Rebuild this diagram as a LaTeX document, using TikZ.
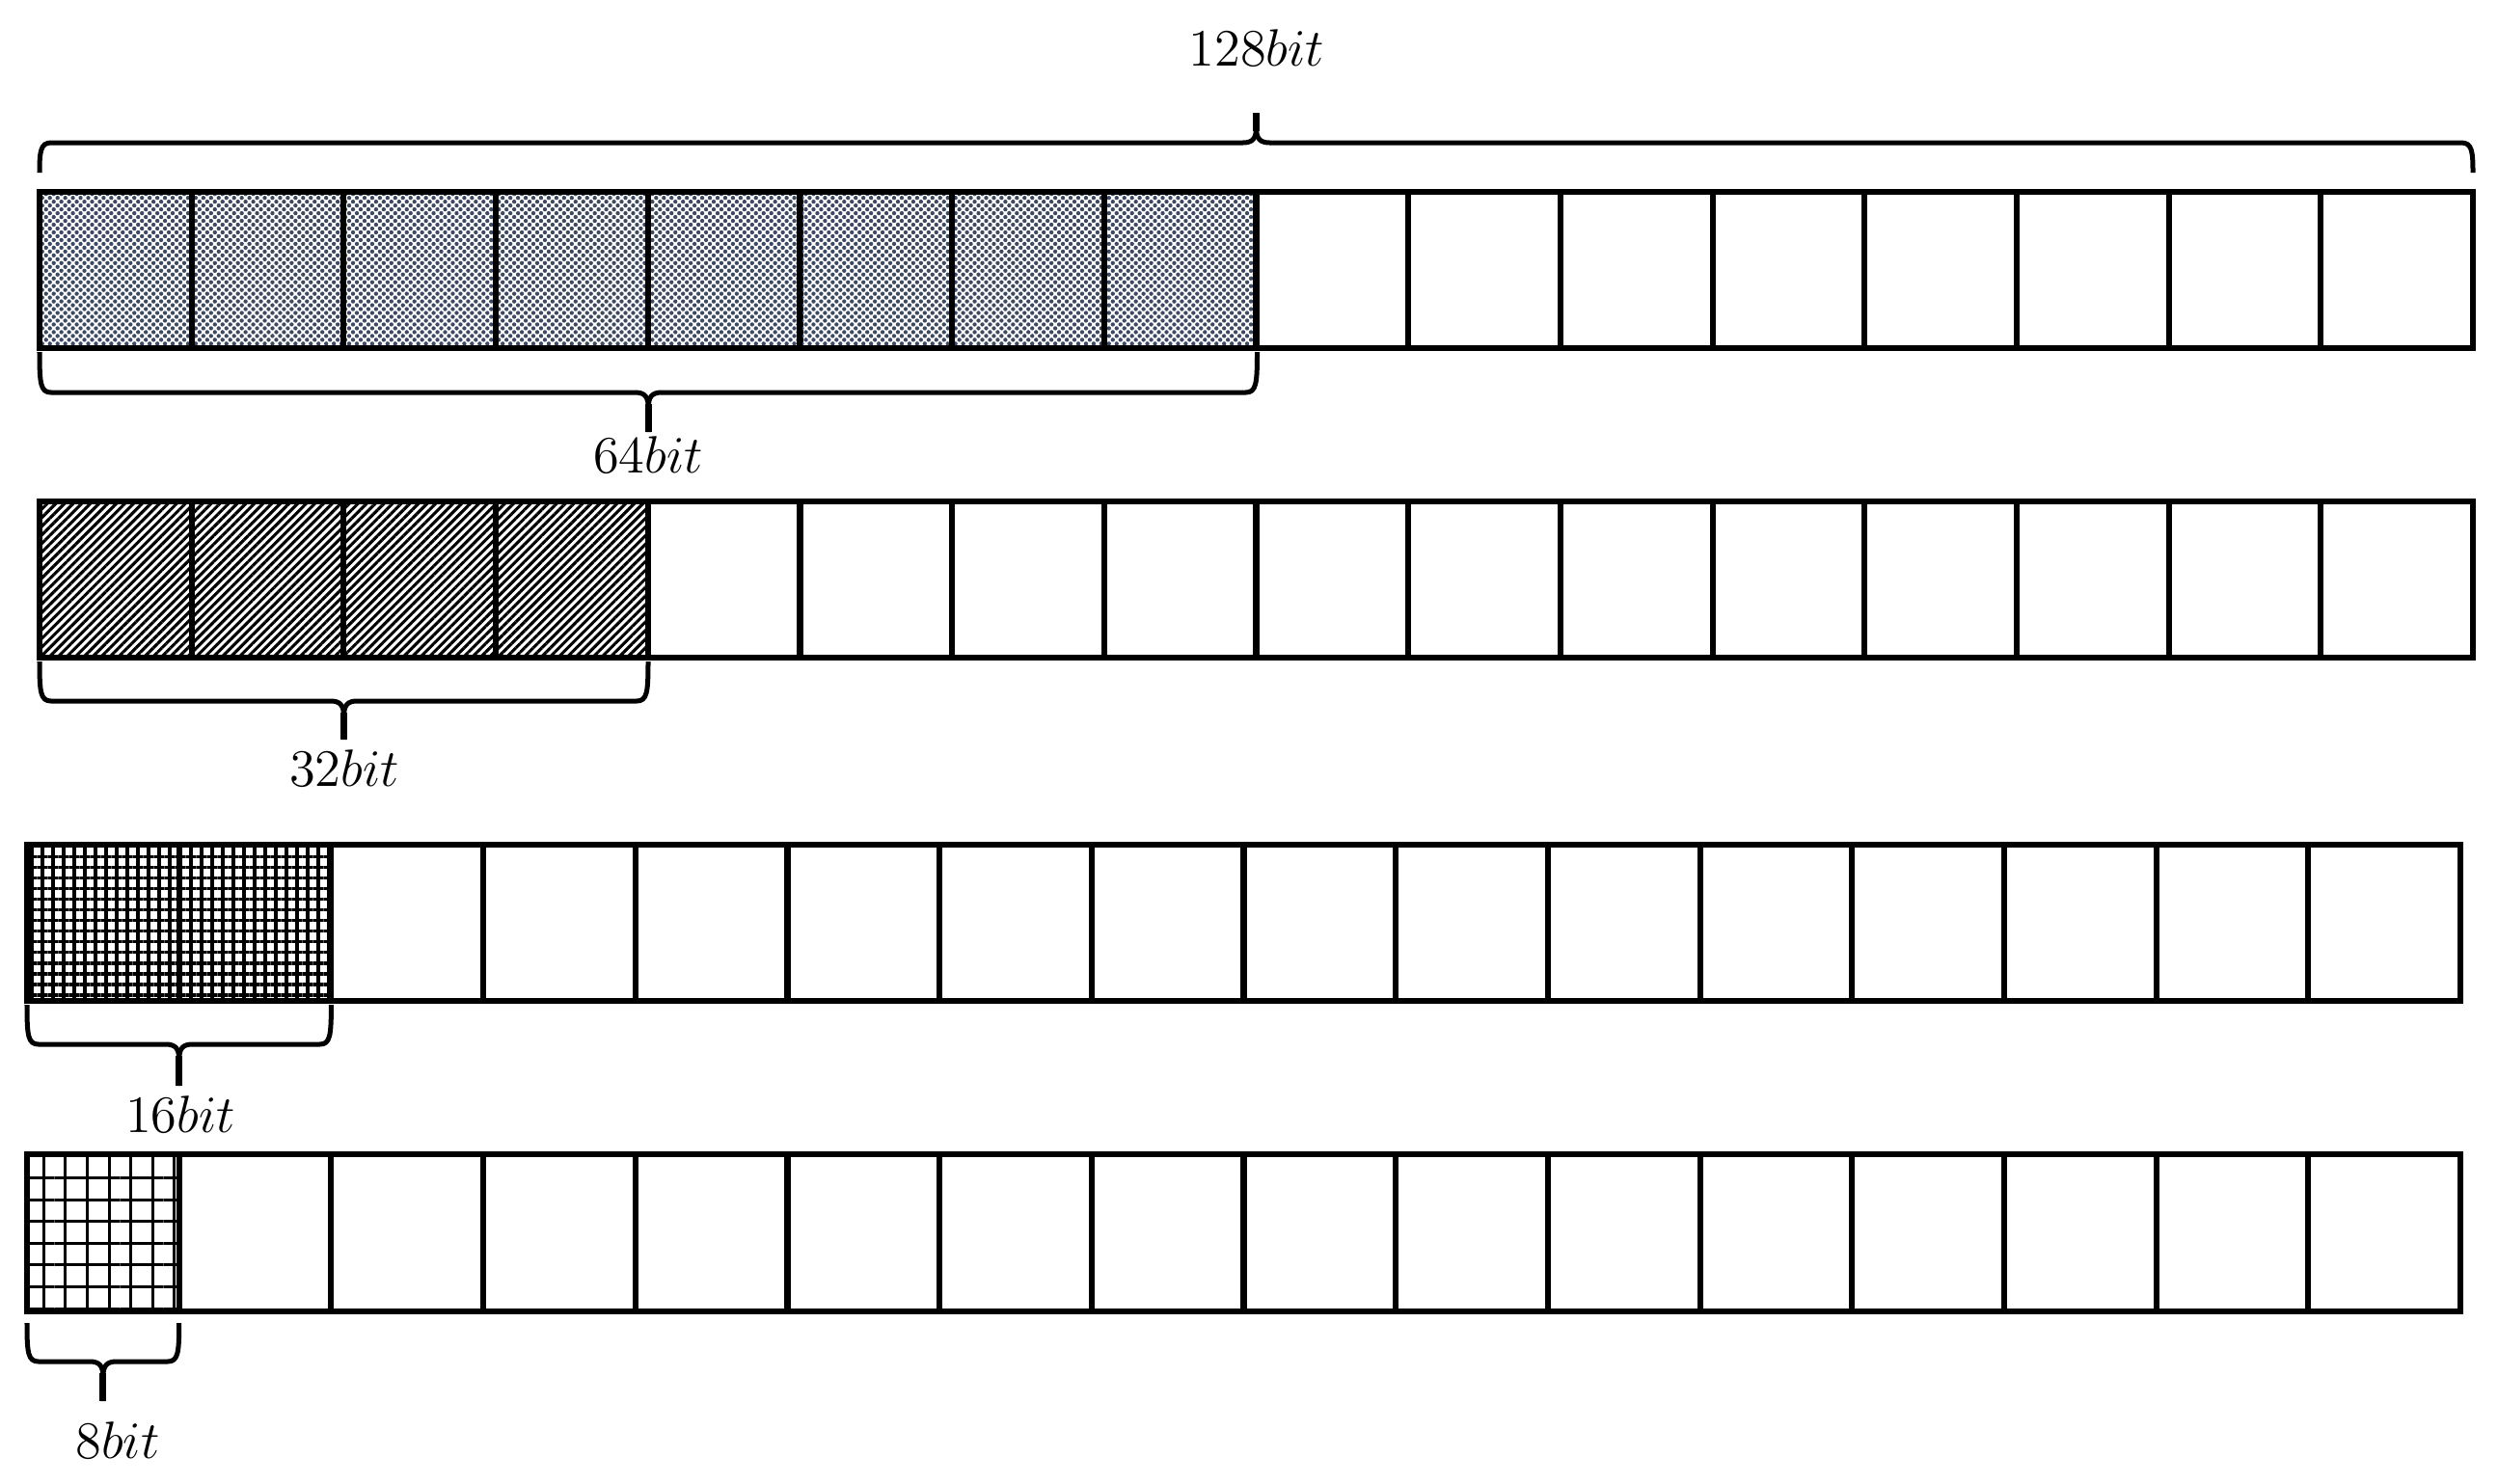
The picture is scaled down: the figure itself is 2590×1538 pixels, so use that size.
\documentclass[tikz,border=0pt]{standalone}
\usetikzlibrary{patterns,patterns.meta}
\definecolor{slate}{HTML}{3E4A62}
\tikzset{
  cell/.style={draw=black, line width=0.06cm, rectangle, inner sep=0pt, outer sep=0pt,
    minimum width=1.5769cm, minimum height=1.62cm},
  pdots/.style={pattern={Dots[angle=45,distance=1.6pt,radius=0.62pt]}, pattern color=slate},
  plines/.style={pattern={Lines[angle=45,distance=1.8pt,line width=0.88pt]}, pattern color=black},
  pfine/.style={pattern={Hatch[angle=0,distance=3.13pt,line width=1.05pt]}, pattern color=black},
  pcoarse/.style={pattern={Hatch[angle=0,distance=6.43pt,line width=0.85pt]}, pattern color=black},
  brc/.style={draw=black, line width=0.05cm, line cap=butt, line join=round},
  lbl/.style={anchor=base, inner sep=0pt, font=\Large, scale=1.076}
}
\newcommand\mybrace[5]{%
  \pgfmathsetmacro\bxm{(#1+#2)/2}%
  \pgfmathsetmacro\bs{(#4-#3)/abs(#4-#3)}%
  \draw[brc] (#1,#3) .. controls (#1,#4-9*\bs) and (#1+1,#4) .. (#1+12,#4) -- (\bxm-14,#4)
     .. controls (\bxm-4,#4) and (\bxm,#4+4*\bs) .. (\bxm,#4+16*\bs) -- (\bxm,#5);
  \draw[brc] (#2,#3) .. controls (#2,#4-9*\bs) and (#2-1,#4) .. (#2-12,#4) -- (\bxm+14,#4)
     .. controls (\bxm+4,#4) and (\bxm,#4+4*\bs) .. (\bxm,#4+16*\bs);
  \draw[draw=black, line width=0.07cm] (\bxm,#4+12*\bs) -- (\bxm,#5);
}
\begin{document}
\begin{tikzpicture}[x=0.01cm, y=-0.01cm]
\useasboundingbox (0,0) rectangle (2590,1538);
% row 1
\foreach \i in {1,...,16}{
  \ifnum\i<9
    \node[cell,pdots] (a\i) at ({41+(\i-0.5)*157.69},280) {};
  \else
    \node[cell] (a\i) at ({41+(\i-0.5)*157.69},280) {};
  \fi
}
% row 2
\foreach \i in {1,...,16}{
  \ifnum\i<5
    \node[cell,plines] (b\i) at ({41+(\i-0.5)*157.69},601) {};
  \else
    \node[cell] (b\i) at ({41+(\i-0.5)*157.69},601) {};
  \fi
}
% row 3
\foreach \i in {1,...,16}{
  \ifnum\i<3
    \node[cell,pfine] (c\i) at ({28+(\i-0.5)*157.69},957) {};
  \else
    \node[cell] (c\i) at ({28+(\i-0.5)*157.69},957) {};
  \fi
}
% row 4
\foreach \i in {1,...,16}{
  \ifnum\i<2
    \node[cell,pcoarse] (d\i) at ({28+(\i-0.5)*157.69},1278.5) {};
  \else
    \node[cell] (d\i) at ({28+(\i-0.5)*157.69},1278.5) {};
  \fi
}
% braces
\mybrace{41}{2564}{179}{148}{117}
\mybrace{41}{1303.5}{365}{407}{448}
\mybrace{41}{672}{686}{727}{767}
\mybrace{28}{343.4}{1042}{1083}{1126}
\mybrace{28}{185.7}{1372}{1412}{1453}
% labels
\node[lbl] (l128) at (1303,68) {$128bit$};
\node[lbl] (l64) at (672,490) {$64bit$};
\node[lbl] (l32) at (357,815) {$32bit$};
\node[lbl] (l16) at (187,1174) {$16bit$};
\node[lbl] (l8) at (122,1512) {$8bit$};
\end{tikzpicture}
\end{document}
